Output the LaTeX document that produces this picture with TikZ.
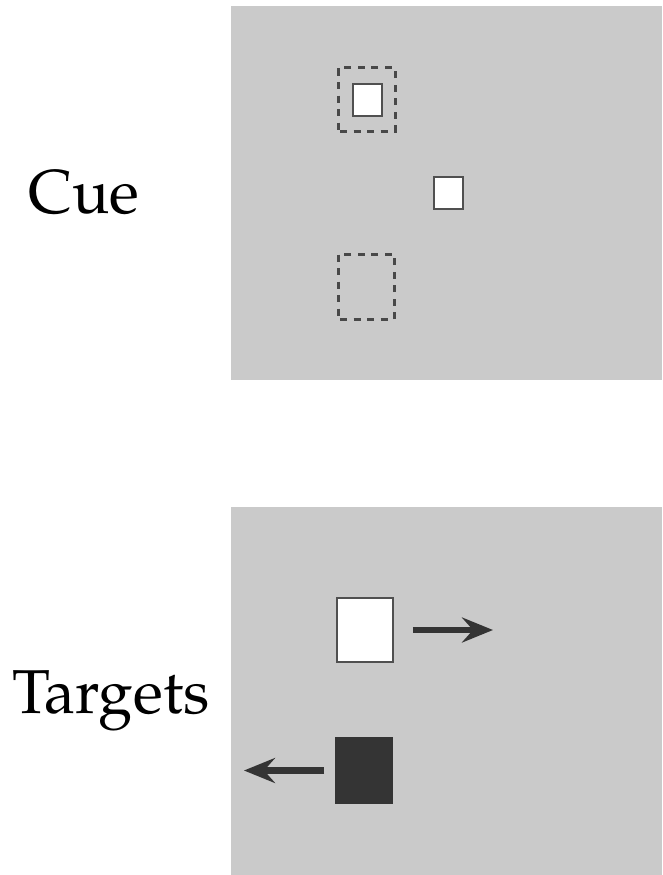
\documentclass[tikz,border=0pt]{standalone}
\usepackage[T1]{fontenc}
\usepackage{mathpazo}
\usepackage{tikz}
\usetikzlibrary{arrows.meta,positioning}
\definecolor{panelgray}{RGB}{202,202,202}
\definecolor{edgegray}{RGB}{80,80,80}
\definecolor{darkfill}{RGB}{52,52,52}
\tikzset{
  panel/.style={fill=panelgray,draw=none},
  cuebox/.style={draw=edgegray,fill=white,line width=1.6pt,inner sep=0pt},
  placeholder/.style={draw=darkfill!90,line width=3pt,dash pattern=on 7pt off 6.5pt,dash phase=-2pt,inner sep=0pt},
  target/.style={draw=edgegray,line width=1.6pt,inner sep=0pt,minimum width=56pt,minimum height=64pt},
  moveto/.style={draw=darkfill,line width=6.5pt,-{Stealth[length=31pt,width=25pt,inset=11pt]}},
  label/.style={font=\fontsize{62}{70}\selectfont,inner sep=0pt}
}
\begin{document}
\begin{tikzpicture}[x=1pt,y=-1pt]
\useasboundingbox (0,0) rectangle (662,875);
\fill[panel] (231,6) rectangle (662,380);
\fill[panel] (231,507) rectangle (662,875);
% cue display
\node[label,anchor=base west] (cue) at (28,213) {Cue};
\node[placeholder,minimum width=57pt,minimum height=63pt] (upper) at (366.5,99.5) {};
\node[placeholder,minimum width=56pt,minimum height=65pt] (lower) at (366,286.5) {};
\node[cuebox,minimum width=29pt,minimum height=32pt] (cued) at (367.5,100) {};
\node[cuebox,minimum width=29pt,minimum height=32pt] (fix) at (448.5,193) {};
% target display
\node[label,anchor=base west] (targets) at (12,713) {Targets};
\node[target,fill=white] (whiteT) at (365,630) {};
\node[target,fill=darkfill,draw=darkfill,minimum height=65pt] (blackT) at (364,770.5) {};
\coordinate (rightEnd) at (493,630);
\coordinate (leftEnd) at (244,770.5);
\draw[moveto] ([xshift=19pt]whiteT.east) -- (rightEnd);
\draw[moveto] ([xshift=-11pt]blackT.west) -- (leftEnd);
\end{tikzpicture}
\end{document}
